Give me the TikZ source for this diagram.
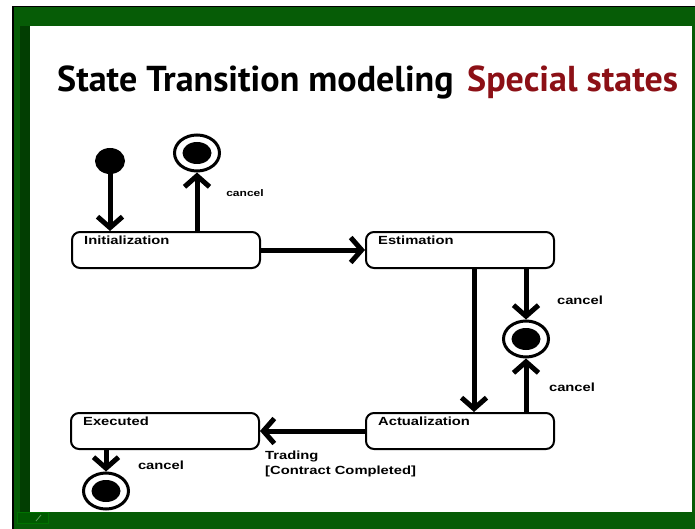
\documentclass[tikz,border=0pt]{standalone}
\usepackage{fontspec}
\usetikzlibrary{arrows.meta,shapes.geometric}
\newfontfamily\titlefont{PT Sans}
\newfontfamily\lblfont{Liberation Sans}[FakeStretch=1.25]
\definecolor{framegreen}{RGB}{6,92,6}
\definecolor{framedark}{RGB}{2,62,2}
\definecolor{titlered}{RGB}{140,16,22}
\tikzset{
  stbox/.style={draw, line width=2pt, rounded corners=8pt, minimum width=188pt,
    minimum height=36pt, inner sep=0pt},
  stname/.style={anchor=north west, inner sep=0pt, xshift=13pt, yshift=-5pt,
    font=\lblfont\bfseries\fontsize{11.8}{13}\selectfont},
  initdot/.style={ellipse, fill, minimum width=30pt, minimum height=26pt, inner sep=0pt},
  finaldot/.style={ellipse, draw, line width=3pt, fill=white, minimum width=45pt,
    minimum height=36pt, inner sep=0pt,
    path picture={\fill[black] (path picture bounding box.center) ellipse (14.5pt and 11pt);}},
  trans/.style={line width=5pt, -{Straight Barb[length=11pt,width=25pt]}},
  evt/.style={inner sep=0pt, font=\lblfont\bfseries\fontsize{11.8}{15}\selectfont},
  ttl/.style={anchor=base west, inner sep=0pt, font=\titlefont\bfseries\fontsize{36}{38}\selectfont},
}
\begin{document}
\begin{tikzpicture}[x=1pt, y=-1pt]
\useasboundingbox (0,0) rectangle (695,529);
% slide frame
\fill[white] (0,0) rectangle (695,529);
\fill[framegreen] (12,6) rectangle (695,529);
\draw[black, line width=1.5pt] (12.75,529) -- (12.75,6.75) -- (695,6.75);
\fill[framedark] (20,26) rectangle (30,512);
\fill[white] (30,26) rectangle (692,512);
% viewer button
\draw[green!45!black, fill=green!35!black, line width=0.6pt] (17,512.5) rectangle (48,523);
\draw[green!25!gray, line width=0.8pt] (36,521) -- (41,515);
% title
\node[ttl] (title) at (57,92) {State Transition modeling};
\node[ttl, text=titlered] (subtitle) at (467,92) {Special states};
% states
\node[stbox] (init) at (166,250) {};
\node[stname] at (init.north west) {Initialization};
\node[stbox] (est) at (460,250) {};
\node[stname] at (est.north west) {Estimation};
\node[stbox] (act) at (460,431) {};
\node[stname] at (act.north west) {Actualization};
\node[stbox] (exe) at (165,431) {};
\node[stname] at (exe.north west) {Executed};
% pseudo states
\node[initdot] (start) at (110,161) {};
\node[finaldot] (endA) at (197,153) {};
\node[finaldot] (endB) at (526,339) {};
\node[finaldot] (endC) at (106,491) {};
% transitions
\draw[trans] (start.south) -- (start.south |- init.north);
\draw[trans] (init.north -| endA) -- (endA.south);
\draw[trans] (init.east) -- (est.west);
\draw[trans] ([xshift=14pt]est.south) -- ([xshift=14pt]act.north);
\draw[trans] (est.south -| endB) -- (endB.north);
\draw[trans] (act.north -| endB) -- (endB.south);
\draw[trans] (act.west) -- (exe.east);
\draw[trans] (exe.south -| endC) -- (endC.north);
% events
\node[evt, font=\lblfont\bfseries\fontsize{9.6}{12}\selectfont] (c1) at (245,193) {cancel};
\node[evt] (c2) at (580,300) {cancel};
\node[evt] (c3) at (572,387) {cancel};
\node[evt] (c4) at (161,465) {cancel};
\node[evt, anchor=north west, align=left] (trade) at (265,451) {Trading\\{[}Contract Completed{]}};
\end{tikzpicture}
\end{document}
